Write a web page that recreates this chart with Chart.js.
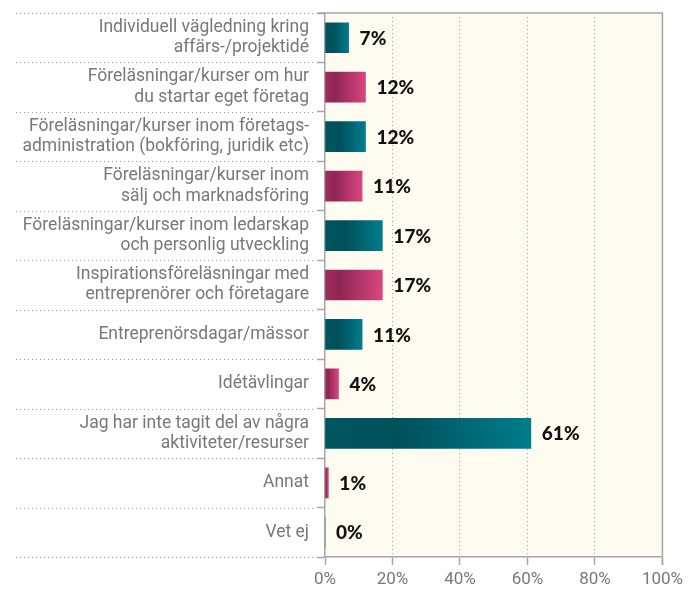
<!DOCTYPE html>
<html>
<head>
<meta charset="utf-8">
<script src="https://cdn.jsdelivr.net/npm/chart.js@4.4.1/dist/chart.umd.min.js"></script>
<style>
  html, body { margin: 0; padding: 0; background: #ffffff; }
  #wrap { position: relative; width: 688px; height: 592px; }
</style>
</head>
<body>
<div id="wrap"><canvas id="chart" width="688" height="592"></canvas></div>
<script>
// Activities taken part in (share of respondents)
const categories = [
  ['Individuell vägledning kring', 'affärs-/projektidé'],
  ['Föreläsningar/kurser om hur', 'du startar eget företag'],
  ['Föreläsningar/kurser inom företags-', 'administration (bokföring, juridik etc)'],
  ['Föreläsningar/kurser inom', 'sälj och marknadsföring'],
  ['Föreläsningar/kurser inom ledarskap', 'och personlig utveckling'],
  ['Inspirationsföreläsningar med', 'entreprenörer och företagare'],
  'Entreprenörsdagar/mässor',
  'Idétävlingar',
  ['Jag har inte tagit del av några', 'aktiviteter/resurser'],
  'Annat',
  'Vet ej'
];
const values = [7, 12, 12, 11, 17, 17, 11, 4, 61, 1, 0];
const xTicks = [0, 20, 40, 60, 80, 100];

const GRAY = '#a6a6a6';
const LABEL_GRAY = '#787878';

// teal / magenta alternating, each with a dark band near the left end
function barGradient(ctx) {
  const i = ctx.dataIndex;
  const teal = i % 2 === 0;
  const xs = ctx.chart.scales.x;
  if (!ctx.chart.chartArea || !xs) return teal ? '#006a78' : '#b83a6e';
  const x0 = xs.getPixelForValue(0);
  const x1 = xs.getPixelForValue(values[i]);
  if (!isFinite(x0) || !isFinite(x1)) return teal ? '#006a78' : '#b83a6e';
  const g = ctx.chart.ctx.createLinearGradient(x0, 0, Math.max(x1, x0 + 1), 0);
  if (teal) {
    g.addColorStop(0, '#00565f');
    g.addColorStop(0.35, '#00505b');
    g.addColorStop(1, '#007d8b');
  } else {
    g.addColorStop(0, '#a02d5c');
    g.addColorStop(0.25, '#8e2653');
    g.addColorStop(1, '#d94680');
  }
  return g;
}

const bgPlugin = {
  id: 'plotBackground',
  beforeDraw(chart) {
    const { ctx, chartArea: a } = chart;
    ctx.save();
    ctx.fillStyle = '#fefcf1';
    ctx.fillRect(a.left, a.top, a.right - a.left, a.bottom - a.top);
    ctx.restore();
  }
};

// dotted row separators across the label column, plus the box outline
const framePlugin = {
  id: 'frame',
  afterDraw(chart) {
    const { ctx, chartArea: a } = chart;
    const y = chart.scales.y;
    const step = (y.getPixelForValue(1) - y.getPixelForValue(0));
    ctx.save();
    ctx.strokeStyle = '#9a9a9a';
    ctx.lineWidth = 1;
    ctx.setLineDash([1, 3]);
    for (let i = 0; i <= categories.length; i++) {
      const py = Math.round(y.getPixelForValue(i) - step / 2) + 0.5;
      ctx.beginPath();
      ctx.moveTo(16, py);
      ctx.lineTo(a.left - 10, py);
      ctx.stroke();
    }
    ctx.setLineDash([]);
    ctx.strokeStyle = GRAY;
    ctx.lineWidth = 1.5;
    ctx.beginPath();
    ctx.moveTo(a.left - 8, a.top);
    ctx.lineTo(a.right, a.top);
    ctx.lineTo(a.right, a.bottom + 8);
    ctx.stroke();
    ctx.restore();
  }
};

const valueLabelPlugin = {
  id: 'valueLabels',
  afterDatasetsDraw(chart) {
    const { ctx } = chart;
    const meta = chart.getDatasetMeta(0);
    meta.data.forEach((bar, i) => {
      ctx.save();
      ctx.fillStyle = '#111111';
      ctx.font = '900 19px Lato, sans-serif';
      ctx.textAlign = 'left';
      ctx.textBaseline = 'middle';
      ctx.fillText(values[i] + '%', bar.x + 11, bar.y + 1);
      ctx.restore();
    });
  }
};

new Chart(document.getElementById('chart'), {
  type: 'bar',
  data: {
    labels: categories,
    datasets: [{
      data: values,
      backgroundColor: barGradient,
      barThickness: 30,
      borderWidth: 0,
      borderSkipped: false
    }]
  },
  options: {
    indexAxis: 'y',
    responsive: false,
    animation: false,
    layout: { padding: { top: 13, right: 22, left: 0, bottom: 0 } },
    plugins: {
      legend: { display: false },
      tooltip: { enabled: false }
    },
    scales: {
      x: {
        min: 0,
        max: 100,
        afterBuildTicks(scale) { scale.ticks = xTicks.map(v => ({ value: v })); },
        afterFit(scale) { scale.height = 35; },
        grid: {
          color: (c) => (c.index === 0 || c.index === xTicks.length - 1) ? 'rgba(0,0,0,0)' : '#a0a0a0',
          lineWidth: 1,
          tickLength: 8,
          tickColor: GRAY,
          tickWidth: 1.5
        },
        border: { display: true, color: GRAY, width: 1.5, dash: [1, 3] },
        ticks: {
          color: LABEL_GRAY,
          padding: 5,
          font: { family: 'Roboto', size: 17 },
          callback: (v) => v + '%'
        }
      },
      y: {
        offset: true,
        afterFit(scale) {
          scale.width = 325;
          scale.paddingTop = 0;
          scale.paddingBottom = 0;
        },
        grid: {
          offset: true,
          drawOnChartArea: false,
          tickLength: 8,
          color: GRAY,
          tickColor: GRAY,
          tickWidth: 1.5
        },
        border: { display: true, color: GRAY, width: 1.5 },
        ticks: {
          color: LABEL_GRAY,
          padding: 8,
          font: { family: 'Roboto', size: 17.5, lineHeight: 1.15 }
        }
      }
    }
  },
  plugins: [bgPlugin, framePlugin, valueLabelPlugin]
});
</script>
</body>
</html>
